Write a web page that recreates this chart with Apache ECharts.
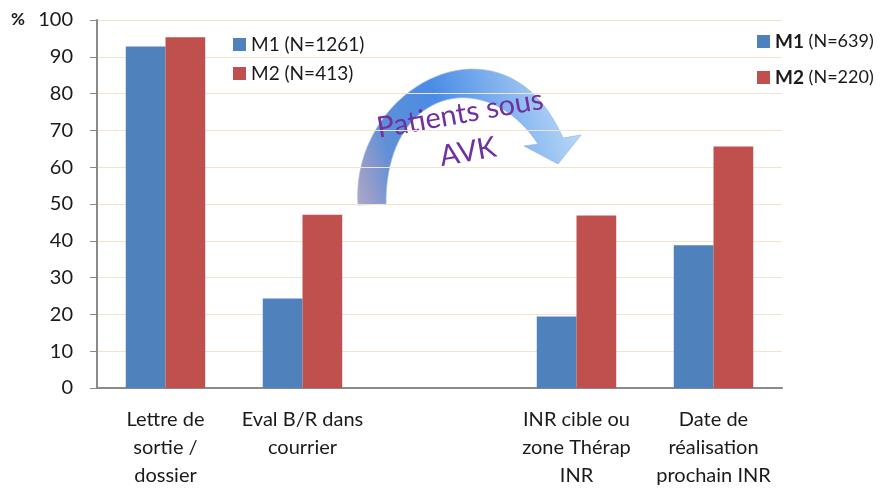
<!doctype html>
<html lang="fr">
<head>
<meta charset="utf-8" />
<title>Patients sous AVK</title>
<script src="https://cdn.jsdelivr.net/npm/echarts@6/dist/echarts.min.js"></script>
<style>
  html, body { margin: 0; padding: 0; background: #fff; }
  #chart { width: 888px; height: 488px; }
</style>
</head>
<body>
<div id="chart"></div>
<script>
    // categories (the empty slot is a gap in the original)
    var categories = ['Lettre de\nsortie /\ndossier', 'Eval B/R dans\ncourrier', '', 'INR cible ou\nzone Thérap\nINR', 'Date de\nréalisation\nprochain INR'];
    var yTicks = [0, 100, 10];

    // left group : M1 (N=1261), M2 (N=413)
    var m1Left = [92.8, 24.3, null, null, null];
    var m2Left = [95.3, 47.1, null, null, null];
    // right group (patients sous AVK) : M1 (N=639), M2 (N=220)
    var m1Right = [null, null, null, 19.4, 38.8];
    var m2Right = [null, null, null, 46.9, 65.6];

    var namesLeft = ['M1 (N=1261)', 'M2 (N=413)'];
    var namesRight = ['M1 (N=639)', 'M2 (N=220)'];

    var blue = '#4f81bd';
    var red = '#c0504d';
    var font = 'Lato, sans-serif';

    function bar(name, data, color, stack) {
        return {
            name: name,
            type: 'bar',
            stack: stack,
            data: data,
            barGap: '0%',
            barCategoryGap: '42%',
            itemStyle: { color: color },
            emphasis: { disabled: true }
        };
    }

    // sample a cubic bezier into points (decoration only)
    function cubic(p0, p1, p2, p3, n) {
        var pts = [];
        for (var i = 0; i <= n; i++) {
            var t = i / n, u = 1 - t;
            pts.push([
                u*u*u*p0[0] + 3*u*u*t*p1[0] + 3*u*t*t*p2[0] + t*t*t*p3[0],
                u*u*u*p0[1] + 3*u*u*t*p1[1] + 3*u*t*t*p2[1] + t*t*t*p3[1]
            ]);
        }
        return pts;
    }
    var arrowPts = cubic([358, 205], [350, 85], [505, 5], [563, 138], 40)
        .concat([[581, 135], [558, 164], [524, 146]])
        .concat(cubic([538, 144], [485, 64], [385, 90], [386, 204], 40));

    var chart = echarts.init(document.getElementById('chart'));
    chart.setOption({
        animation: false,
        grid: { left: 97, right: 106, top: 20, bottom: 100, outerBoundsMode: 'none' },
        legend: [{
            orient: 'vertical',
            left: 233, top: 35, padding: 0,
            itemWidth: 13, itemHeight: 13, itemGap: 10,
            icon: 'rect',
            data: namesLeft,
            textStyle: { fontFamily: font, fontSize: 19, color: '#1a1a1a' }
        }, {
            orient: 'vertical',
            left: 757, top: 32, padding: 0,
            itemWidth: 13, itemHeight: 13, itemGap: 17,
            icon: 'rect',
            data: namesRight,
            formatter: function (name) {
                var i = name.indexOf(' ');
                return '{b|' + name.slice(0, i) + '} {n|' + name.slice(i + 1) + '}';
            },
            textStyle: {
                fontFamily: font, fontSize: 18, color: '#1a1a1a',
                rich: {
                    b: { fontFamily: font, fontSize: 19, fontWeight: 'bold', color: '#1a1a1a' },
                    n: { fontFamily: font, fontSize: 18, color: '#1a1a1a' }
                }
            }
        }],
        xAxis: {
            type: 'category',
            data: categories,
            axisLine: { lineStyle: { color: '#8a8a8a', width: 2 } },
            axisTick: { length: 8, lineStyle: { color: '#8a8a8a', width: 1 } },
            axisLabel: {
                interval: 0, margin: 18, lineHeight: 28,
                fontFamily: font, fontSize: 20, color: '#1a1a1a'
            }
        },
        yAxis: {
            type: 'value',
            min: yTicks[0], max: yTicks[1], interval: yTicks[2],
            axisLine: { show: true, lineStyle: { color: '#8a8a8a', width: 2 } },
            axisTick: { show: true, length: 7, lineStyle: { color: '#8a8a8a' } },
            axisLabel: { margin: 24, fontFamily: font, fontSize: 20, color: '#1a1a1a' },
            splitLine: { lineStyle: { color: '#f3e4c9', width: 1 } }
        },
        series: [
            bar(namesLeft[0], m1Left, blue, 'm1'),
            bar(namesLeft[1], m2Left, red, 'm2'),
            bar(namesRight[0], m1Right, blue, 'm1'),
            bar(namesRight[1], m2Right, red, 'm2')
        ],
        graphic: [{
            type: 'text', left: 11, top: 11,
            style: { text: '%', fontFamily: font, fontSize: 17, fontWeight: 'bold', fill: '#1a1a1a' }
        }, {
            // curved arrow
            type: 'polygon',
            shape: { points: arrowPts },
            style: {
                fill: {
                    type: 'linear', x: 0, y: 1, x2: 1, y2: 0.5,
                    colorStops: [
                        { offset: 0, color: '#b3a6c4' },
                        { offset: 0.2, color: '#5f8fd6' },
                        { offset: 0.45, color: '#4a8ce6' },
                        { offset: 1, color: '#b9d9f7' }
                    ]
                },
                stroke: 'rgba(150,185,235,0.7)', lineWidth: 1
            }
        }, {
            type: 'text', x: 460, y: 114, rotation: 10 * Math.PI / 180,
            style: { text: 'Patients sous', fontFamily: font, fontSize: 29, fill: '#7030a0', align: 'center', verticalAlign: 'middle' }
        }, {
            type: 'text', x: 468, y: 152, rotation: 10 * Math.PI / 180,
            style: { text: 'AVK', fontFamily: font, fontSize: 29, fill: '#7030a0', align: 'center', verticalAlign: 'middle' }
        }]
    });
</script>
</body>
</html>
